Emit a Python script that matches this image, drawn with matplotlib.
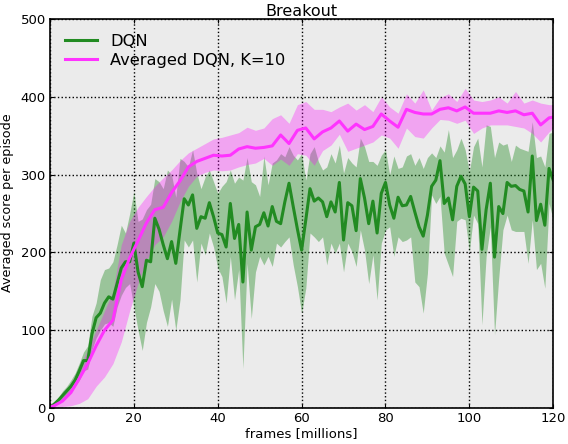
import numpy as np
import matplotlib
matplotlib.use("Agg")
import matplotlib.pyplot as plt

# DQN: one evaluation per million frames
dqn_frames = np.arange(0, 121)
dqn_mean = [1, 5, 10, 16, 22, 28, 36, 48, 61, 61,
            95, 116, 122, 135, 143, 140, 160, 180, 188, 188,
            212, 175, 156, 190, 188, 244, 230, 210, 192, 214,
            186, 228, 269, 261, 274, 231, 246, 244, 264, 246,
            225, 223, 207, 263, 218, 236, 162, 252, 203, 233,
            236, 251, 234, 259, 240, 237, 265, 289, 259, 230,
            203, 242, 282, 266, 270, 265, 246, 265, 252, 290,
            216, 264, 260, 228, 295, 270, 237, 266, 225, 276,
            290, 261, 244, 271, 260, 261, 272, 252, 233, 221,
            248, 285, 293, 318, 263, 270, 242, 285, 298, 288,
            246, 284, 279, 204, 255, 289, 194, 259, 250, 290,
            285, 286, 281, 279, 252, 324, 241, 262, 235, 308,
            293]
dqn_upper = [3, 8, 14, 22, 28, 36, 45, 58, 72, 80,
             118, 135, 165, 178, 180, 188, 210, 235, 225, 250,
             278, 240, 243, 255, 262, 295, 291, 282, 306, 300,
             271, 321, 317, 310, 332, 302, 282, 297, 306, 291,
             276, 285, 291, 306, 289, 297, 293, 322, 291, 287,
             272, 324, 287, 315, 319, 327, 323, 336, 325, 319,
             327, 293, 327, 336, 317, 306, 310, 327, 315, 338,
             302, 322, 315, 310, 347, 336, 317, 317, 312, 325,
             332, 300, 324, 308, 310, 324, 327, 312, 322, 308,
             322, 328, 322, 337, 329, 358, 322, 332, 347, 332,
             304, 336, 347, 310, 364, 362, 322, 342, 338, 340,
             317, 338, 334, 332, 330, 368, 322, 324, 310, 353,
             355]
dqn_lower = [0, 2, 6, 11, 16, 21, 28, 36, 48, 50,
             75, 90, 100, 108, 110, 105, 130, 145, 155, 160,
             130, 100, 74, 110, 130, 160, 150, 125, 105, 140,
             100, 139, 216, 207, 216, 162, 212, 197, 225, 207,
             180, 169, 135, 195, 139, 178, 51, 186, 115, 175,
             195, 184, 195, 182, 212, 207, 214, 220, 184, 156,
             122, 154, 225, 220, 214, 220, 184, 212, 199, 212,
             175, 212, 201, 182, 229, 203, 160, 197, 139, 212,
             229, 233, 195, 220, 214, 216, 220, 162, 156, 122,
             173, 274, 263, 272, 199, 184, 169, 240, 244, 242,
             201, 248, 237, 107, 195, 233, 94, 167, 229, 248,
             229, 227, 227, 227, 186, 242, 178, 186, 154, 263,
             242]

# Averaged DQN, K=10: one evaluation per two million frames
avg_frames = [0] + list(range(1, 121, 2)) + [120]
avg_mean = [1, 3, 9, 20, 38, 57, 80, 100, 113, 165,
            193, 215, 238, 255, 258, 277, 292, 310, 317, 321,
            325, 324, 325, 333, 336, 334, 335, 337, 351, 340,
            357, 360, 346, 355, 360, 369, 356, 365, 358, 362,
            378, 369, 361, 384, 380, 378, 378, 384, 386, 382,
            387, 379, 379, 379, 382, 380, 382, 377, 379, 364,
            373, 374]
avg_upper = [3, 6, 14, 30, 52, 75, 100, 125, 150, 210,
             240, 258, 272, 285, 296, 306, 318, 328, 334, 340,
             346, 348, 351, 354, 361, 357, 360, 372, 377, 366,
             390, 394, 384, 384, 381, 387, 392, 383, 390, 381,
             400, 387, 379, 404, 392, 409, 383, 399, 404, 394,
             411, 396, 394, 396, 400, 392, 407, 392, 396, 392,
             390, 390]
avg_lower = [0, 0, 2, 3, 6, 12, 28, 40, 57, 85,
             125, 160, 190, 210, 220, 240, 265, 285, 298, 303,
             306, 305, 306, 310, 313, 315, 321, 312, 320, 312,
             327, 325, 312, 331, 338, 352, 330, 334, 338, 342,
             351, 347, 334, 360, 349, 347, 360, 371, 370, 366,
             370, 353, 360, 364, 364, 364, 362, 360, 353, 342,
             355, 360]

plt.rcParams['font.family'] = 'DejaVu Sans'
fig = plt.figure(figsize=(5.68, 4.44), dpi=100)
ax = fig.add_axes([0.088, 0.081, 0.886, 0.876])
ax.set_facecolor('#ebebeb')

ax.fill_between(dqn_frames, dqn_lower, dqn_upper, color='forestgreen',
                alpha=0.4, linewidth=0)
ax.fill_between(avg_frames, avg_lower, avg_upper, color='magenta',
                alpha=0.3, linewidth=0)
ax.plot(dqn_frames, dqn_mean, color='forestgreen', lw=2.2, label='DQN')
ax.plot(avg_frames, avg_mean, color='#ff33ff', lw=2.2,
        label='Averaged DQN, K=10')

ax.set_xlim(0, 120)
ax.set_ylim(0, 500)
ax.set_xticks(range(0, 121, 20))
ax.set_yticks(range(0, 501, 100))
ax.grid(True, color='black', linestyle=':', linewidth=1)
ax.set_axisbelow(True)
ax.tick_params(direction='in', top=True, right=True, length=3,
               labelsize=9.5, pad=3)
for s in ax.spines.values():
    s.set_linewidth(1.2)

ax.set_title('Breakout', fontsize=11.5, pad=2)
ax.set_xlabel('frames [millions]', fontsize=9.5, labelpad=1)
ax.set_ylabel('Averaged score per episode', fontsize=9.2)
ax.yaxis.set_label_coords(-0.072, 0.527)
ax.legend(loc='upper left', frameon=False, fontsize=11.7, handlelength=2.0,
          borderaxespad=0.5, labelspacing=0.25)

fig.savefig('out.png', dpi=100)
